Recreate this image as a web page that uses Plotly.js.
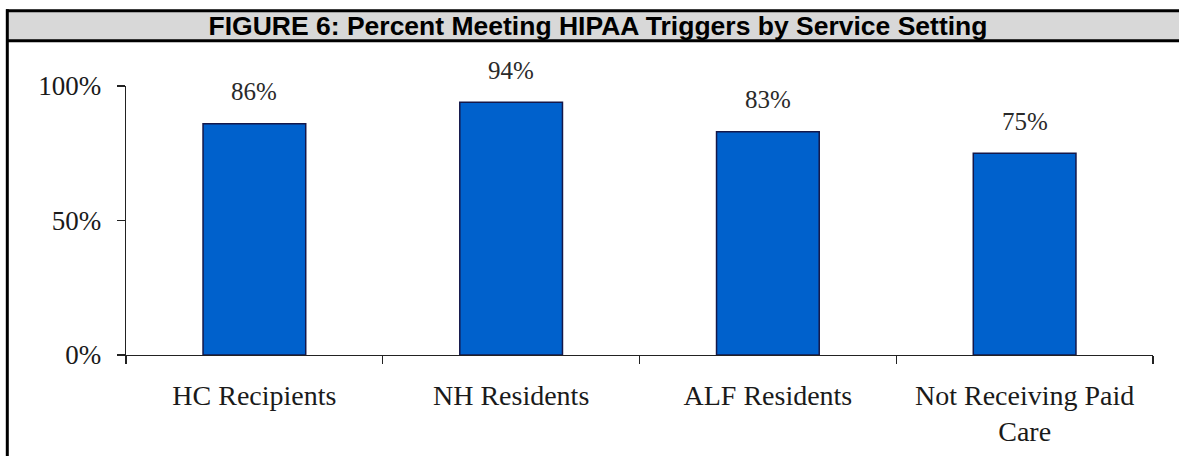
<!DOCTYPE html>
<html>
<head>
<meta charset="utf-8">
<script src="https://cdn.plot.ly/plotly-3.0.1.min.js"></script>
<style>
  html, body { margin: 0; padding: 0; background: #ffffff; overflow: hidden; }
  #chart { width: 1179px; height: 456px; }
</style>
</head>
<body>
<div id="chart"></div>
<script>
// ---- data ----
var categories = ['HC Recipients', 'NH Residents', 'ALF Residents', 'Not Receiving Paid<br>Care'];
var values = [86, 94, 83, 75];
var valueLabels = ['86%', '94%', '83%', '75%'];
var yTickVals = [0, 50, 100];
var yTickText = ['0%', '50%', '100%'];
var titleText = 'FIGURE 6: Percent Meeting HIPAA Triggers by Service Setting';

// ---- layout geometry (pixels) ----
var W = 1179, H = 456;
var L = 126, R = 26, T = 86, B = 101;
var pw = W - L - R, ph = H - T - B;
function px2x(p) { return (p - L) / pw; }
function px2y(p) { return (H - B - p) / ph; }

var serif = 'Liberation Serif, Times New Roman, serif';
var sans = 'Liberation Sans, Arial, sans-serif';

var trace = {
  type: 'bar',
  x: categories,
  y: values,
  marker: { color: '#0061cc', line: { color: '#14184a', width: 1.5 } },
  hoverinfo: 'none'
};

var annotations = categories.map(function (c, i) {
  return {
    x: c, y: values[i], xref: 'x', yref: 'y',
    text: valueLabels[i], showarrow: false,
    yanchor: 'middle', yshift: 32,
    font: { family: serif, size: 25, color: '#2a2a2a' }
  };
});

var frameLine = { color: '#000000', width: 3 };
var shapes = [
  // title band fill
  { type: 'rect', xref: 'paper', yref: 'paper', layer: 'below',
    x0: px2x(7.3), x1: px2x(1179), y0: px2y(40.7), y1: px2y(10.7),
    line: { width: 0 }, fillcolor: '#d8d8d8' },
  // top border
  { type: 'line', xref: 'paper', yref: 'paper', layer: 'above',
    x0: px2x(6), x1: px2x(1179), y0: px2y(10.7), y1: px2y(10.7), line: frameLine },
  // band bottom border
  { type: 'line', xref: 'paper', yref: 'paper', layer: 'above',
    x0: px2x(6), x1: px2x(1179), y0: px2y(40.7), y1: px2y(40.7), line: frameLine },
  // left border
  { type: 'line', xref: 'paper', yref: 'paper', layer: 'above',
    x0: px2x(7.3), x1: px2x(7.3), y0: px2y(9.3), y1: px2y(456), line: frameLine }
];

var layout = {
  width: W, height: H,
  margin: { l: L, r: R, t: T, b: B, pad: 0 },
  paper_bgcolor: '#ffffff',
  plot_bgcolor: '#ffffff',
  showlegend: false,
  bargap: 0.6,
  title: {
    text: '<b>' + titleText + '</b>',
    font: { family: sans, size: 26.5, color: '#000000' },
    x: 598 / W, xanchor: 'center', xref: 'container',
    y: 1 - 26 / H, yanchor: 'middle', yref: 'container'
  },
  xaxis: {
    type: 'category',
    showline: true, linecolor: '#222222', linewidth: 1.3,
    ticks: 'outside', tickson: 'boundaries', ticklen: 8, tickwidth: 1.3, tickcolor: '#222222',
    showgrid: false, zeroline: false,
    tickfont: { family: serif, size: 28, color: '#1a1a1a' },
    ticklabelstandoff: 15,
    fixedrange: true
  },
  yaxis: {
    range: [0, 100],
    tickvals: yTickVals, ticktext: yTickText,
    showline: true, linecolor: '#222222', linewidth: 1.3,
    ticks: 'outside', ticklen: 8, tickwidth: 1.3, tickcolor: '#222222',
    showgrid: false, zeroline: false,
    tickfont: { family: serif, size: 27, color: '#1a1a1a' },
    ticklabelstandoff: 10,
    fixedrange: true
  },
  shapes: shapes,
  annotations: annotations
};

Plotly.newPlot('chart', [trace], layout, { displayModeBar: false, staticPlot: true });
</script>
</body>
</html>
